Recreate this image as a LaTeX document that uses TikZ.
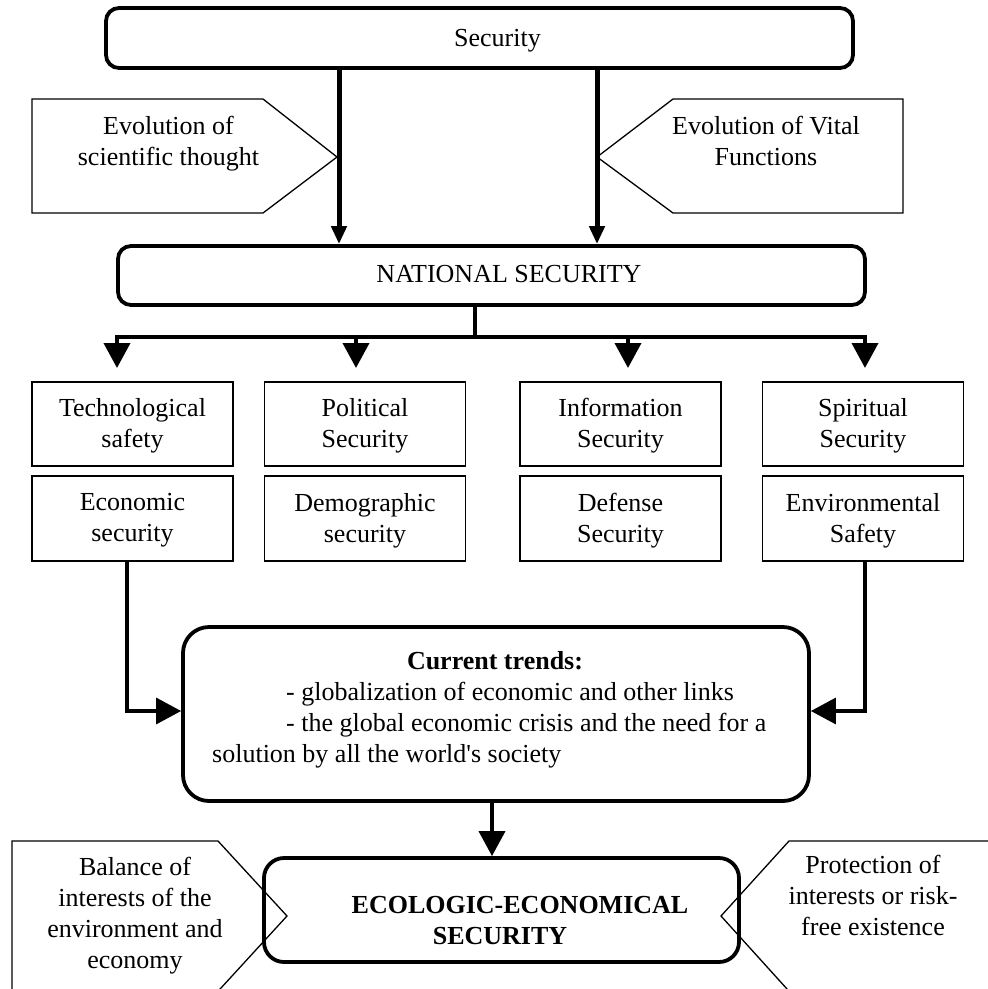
\documentclass[tikz,border=0pt]{standalone}
\usepackage{fontspec}
\setmainfont{Liberation Serif}
\usetikzlibrary{arrows.meta,calc}
\begin{document}
\begin{tikzpicture}[x=1pt,y=-1pt,
  fnt/.style={font=\fontsize{26}{31}\selectfont},
  every node/.style={fnt, inner sep=0pt},
  rbox/.style={draw, line width=3.8pt},
  sbox/.style={draw, line width=1.5pt, minimum width=201pt},
  lbl/.style={align=center, anchor=north},
  secarr/.style={line width=5pt, -{Triangle[length=18pt,width=15pt]}},
  brline/.style={line width=3.8pt},
  brarr/.style={line width=3.8pt, -{Triangle[length=25pt,width=26pt]}},
  conarr/.style={line width=3.3pt, -{Triangle[length=25pt,width=26pt]}},
  pent/.style={line width=1.3pt, line join=miter}
]
\clip (0,0) rectangle (988,989);
\fill[white] (0,0) rectangle (988,989);

% rounded boxes
\node[rbox, rounded corners=13pt, minimum width=747pt, minimum height=60pt] (sec) at (479.5,38) {};
\node[rbox, rounded corners=13pt, minimum width=747pt, minimum height=59pt] (nat) at (491.5,275.5) {};
\node[rbox, rounded corners=26pt, minimum width=626pt, minimum height=174pt] (trends) at (496,714) {};
\node[rbox, rounded corners=20pt, minimum width=475pt, minimum height=104pt] (eco) at (501.5,910) {};

% small boxes
\node[sbox, minimum height=84pt] (tech) at (132.5,424) {};
\node[sbox, minimum height=84pt] (poli) at (365,424) {};
\node[sbox, minimum height=84pt] (info) at (620.5,424) {};
\node[sbox, minimum height=84pt] (spir) at (863,424) {};
\node[sbox, minimum height=85pt] (econ) at (132.5,518.5) {};
\node[sbox, minimum height=85pt] (demo) at (365,518.5) {};
\node[sbox, minimum height=85pt] (defe) at (620.5,518.5) {};
\node[sbox, minimum height=85pt] (envs) at (863,518.5) {};

% pentagons
\coordinate (pl1) at (32,99);  \coordinate (pl2) at (263,99);
\coordinate (pl3) at (337,157); \coordinate (pl4) at (263,213);
\coordinate (pl5) at (32,213);
\draw[pent] (pl1) -- (pl2) -- (pl3) -- (pl4) -- (pl5) -- cycle;
\coordinate (pr1) at (903,99);  \coordinate (pr2) at (673,99);
\coordinate (pr3) at (597,157); \coordinate (pr4) at (673,213);
\coordinate (pr5) at (903,213);
\draw[pent] (pr1) -- (pr2) -- (pr3) -- (pr4) -- (pr5) -- cycle;
\coordinate (ql1) at (12,1000); \coordinate (ql2) at (12,841);
\coordinate (ql3) at (218,841); \coordinate (ql4) at (287,916);
\coordinate (ql5) at (210,1000);
\draw[pent] (ql1) -- (ql2) -- (ql3) -- (ql4) -- (ql5);
\coordinate (qr1) at (1000,841); \coordinate (qr2) at (789,841);
\coordinate (qr3) at (721,916);  \coordinate (qr4) at (797,1000);
\draw[pent] (qr1) -- (qr2) -- (qr3) -- (qr4);

% texts
\node[anchor=base] (sect) at (497.5,46) {Security};
\node[anchor=base] (natt) at (509,282) {NATIONAL SECURITY};
\node[lbl] (evst) at (168.5,116) {Evolution of\\scientific thought};
\node[lbl] (evvt) at (766,116) {Evolution of Vital\\Functions};
\node[lbl] (techt) at (132.5,398) {Technological\\safety};
\node[lbl] (polit) at (365,398) {Political\\Security};
\node[lbl] (infot) at (620.5,398) {Information\\Security};
\node[lbl] (spirt) at (863,398) {Spiritual\\Security};
\node[lbl] (econt) at (132.5,493) {Economic\\security};
\node[lbl] (demot) at (365,493) {Demographic\\security};
\node[lbl] (defet) at (620.5,493) {Defense\\Security};
\node[lbl] (envst) at (863,493) {Environmental\\Safety};
\node[anchor=base, font=\fontsize{26}{31}\selectfont\bfseries] (trt) at (495,669) {Current trends:};
\node[align=left, anchor=north west] (trb) at (212,682.2) {\hspace*{74pt}- globalization of economic and other links\\\hspace*{74pt}- the global economic crisis and the need for a\\solution by all the world\textquotesingle s society};
\node[lbl, font=\fontsize{26}{31}\selectfont\bfseries] (ecot) at (500,896.4) {\hspace*{40pt}ECOLOGIC-ECONOMICAL\\SECURITY};
\node[lbl] (balt) at (135,857.2) {Balance of\\interests of the\\environment and\\economy};
\node[lbl] (prot) at (873,855.2) {Protection of\\interests or risk-\\free existence};

% security -> national
\coordinate (xl) at (339,0);
\coordinate (xr) at (597,0);
\draw[secarr] (xl |- sec.south) -- (xl |- nat.north);
\draw[secarr] (xr |- sec.south) -- (xr |- nat.north);

% branching
\coordinate (bx) at (475,337);
\coordinate (b1) at (117,337); \coordinate (t1) at (117,368);
\coordinate (b2) at (356,337); \coordinate (t2) at (356,368);
\coordinate (b3) at (628,337); \coordinate (t3) at (628,368);
\coordinate (b4) at (865,337); \coordinate (t4) at (865,368);
\draw[brline] (bx |- nat.south) -- (bx);
\draw[brline, line cap=rect] (b1) -- (b4);
\draw[brarr] (b1) -- (t1);
\draw[brarr] (b2) -- (t2);
\draw[brarr] (b3) -- (t3);
\draw[brarr] (b4) -- (t4);

% side connectors into trends
\draw[conarr] ([xshift=-5.5pt]econ.south) |- ([yshift=3pt]trends.west);
\draw[conarr] ([xshift=2pt]envs.south) |- ([yshift=3pt]trends.east);

% trends -> eco
\coordinate (ea) at ([xshift=-4pt]trends.south);
\draw[brarr] (ea) -- (ea |- eco.north);
\end{tikzpicture}
\end{document}
